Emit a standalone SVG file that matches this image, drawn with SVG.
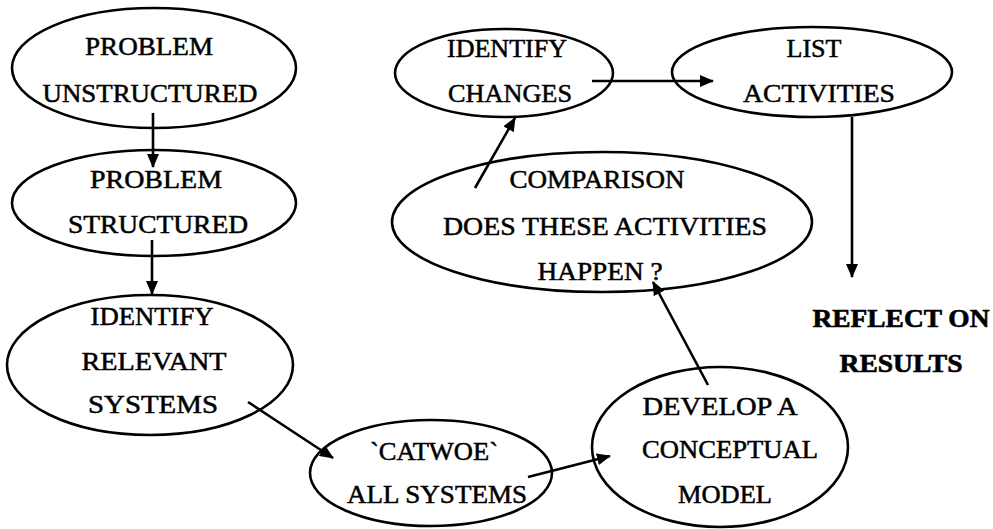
<svg xmlns="http://www.w3.org/2000/svg" width="993" height="529" viewBox="0 0 993 529">
<style>
.n ellipse{fill:none;stroke:#000;stroke-width:2.6}
text{font-family:"Liberation Serif","Times New Roman",serif;font-size:25px;fill:#000;stroke:#000;stroke-width:0.5;text-anchor:middle}
.b{font-weight:bold;stroke-width:0.6}
.c line{stroke:#000;stroke-width:2.6;marker-end:url(#ah)}
</style>
<defs>
<marker id="ah" markerUnits="userSpaceOnUse" markerWidth="14" markerHeight="12" refX="13" refY="6" orient="auto">
<path d="M0,0 L14,6 L0,12 Z" fill="#000"/>
</marker>
</defs>
<rect width="993" height="529" fill="#fff"/>
<g id="n1" class="n">
<ellipse cx="154" cy="68" rx="142" ry="60"/>
<text x="149" y="55" textLength="128" lengthAdjust="spacingAndGlyphs">PROBLEM</text>
<text x="150" y="102" textLength="215" lengthAdjust="spacingAndGlyphs">UNSTRUCTURED</text>
</g>
<g id="n2" class="n">
<ellipse cx="154" cy="203" rx="142" ry="53"/>
<text x="156" y="188" textLength="132" lengthAdjust="spacingAndGlyphs">PROBLEM</text>
<text x="158" y="233" textLength="180" lengthAdjust="spacingAndGlyphs">STRUCTURED</text>
</g>
<g id="n3" class="n">
<ellipse cx="150" cy="365" rx="143" ry="70"/>
<text x="152" y="325" textLength="123" lengthAdjust="spacingAndGlyphs">IDENTIFY</text>
<text x="154" y="370" textLength="145" lengthAdjust="spacingAndGlyphs">RELEVANT</text>
<text x="153" y="413" textLength="130" lengthAdjust="spacingAndGlyphs">SYSTEMS</text>
</g>
<g id="n4" class="n">
<ellipse cx="431" cy="473" rx="121" ry="53"/>
<text x="434" y="460" textLength="128" lengthAdjust="spacingAndGlyphs">`CATWOE`</text>
<text x="437" y="503" textLength="180" lengthAdjust="spacingAndGlyphs">ALL SYSTEMS</text>
</g>
<g id="n5" class="n">
<ellipse cx="720" cy="447" rx="128" ry="80"/>
<text x="720" y="415" textLength="155" lengthAdjust="spacingAndGlyphs">DEVELOP A</text>
<text x="730" y="458" textLength="176" lengthAdjust="spacingAndGlyphs">CONCEPTUAL</text>
<text x="725" y="503" textLength="94" lengthAdjust="spacingAndGlyphs">MODEL</text>
</g>
<g id="n6" class="n">
<ellipse cx="602" cy="222" rx="210" ry="70"/>
<text x="597" y="188" textLength="175" lengthAdjust="spacingAndGlyphs">COMPARISON</text>
<text x="605" y="235" textLength="324" lengthAdjust="spacingAndGlyphs">DOES THESE ACTIVITIES</text>
<text x="600" y="280" textLength="125" lengthAdjust="spacingAndGlyphs">HAPPEN ?</text>
</g>
<g id="n7" class="n">
<ellipse cx="504" cy="73" rx="109" ry="44"/>
<text x="507" y="57" textLength="120" lengthAdjust="spacingAndGlyphs">IDENTIFY</text>
<text x="510" y="102" textLength="124" lengthAdjust="spacingAndGlyphs">CHANGES</text>
</g>
<g id="n8" class="n">
<ellipse cx="812" cy="72" rx="140" ry="45"/>
<text x="814" y="57" textLength="55" lengthAdjust="spacingAndGlyphs">LIST</text>
<text x="819" y="102" textLength="152" lengthAdjust="spacingAndGlyphs">ACTIVITIES</text>
</g>
<g id="n9">
<text class="b" x="901" y="327" textLength="177" lengthAdjust="spacingAndGlyphs">REFLECT ON</text>
<text class="b" x="901" y="372" textLength="123" lengthAdjust="spacingAndGlyphs">RESULTS</text>
</g>
<g id="connectors" class="c">
<line x1="153" y1="113" x2="153" y2="167"/>
<line x1="152" y1="240" x2="152" y2="294"/>
<line x1="248" y1="402" x2="333" y2="458"/>
<line x1="528" y1="477" x2="610" y2="456"/>
<line x1="708" y1="385" x2="653" y2="282"/>
<line x1="475" y1="188" x2="515" y2="118"/>
<line x1="592" y1="81" x2="713" y2="81"/>
<line x1="852" y1="117" x2="852" y2="277"/>
</g>
</svg>
